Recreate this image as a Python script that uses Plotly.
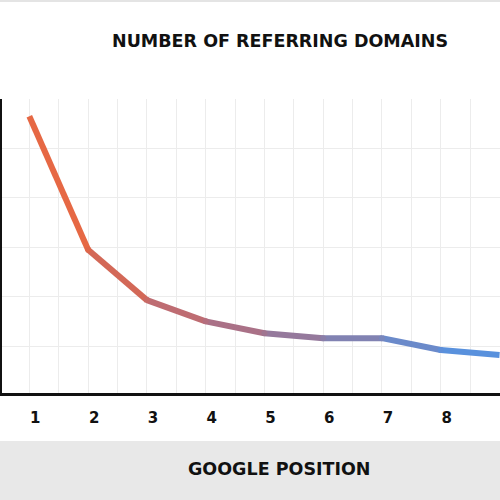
import plotly.graph_objects as go

positions = [1, 2, 3, 4, 5, 6, 7, 8, 9]
domains = [5.65, 2.95, 1.93, 1.50, 1.26, 1.16, 1.16, 0.92, 0.82]
tick_labels = ["1", "2", "3", "4", "5", "6", "7", "8", "9"]
point_colors = ["#EE6A40", "#DE6649", "#C86A66", "#B46E7E", "#A07590",
                "#8A7EA8", "#7886BC", "#5E8ED8", "#5595E2"]

title_text = "NUMBER OF REFERRING DOMAINS"
xaxis_text = "GOOGLE POSITION"


def mix(c1, c2):
    a = [int(c1[i:i + 2], 16) for i in (1, 3, 5)]
    b = [int(c2[i:i + 2], 16) for i in (1, 3, 5)]
    return "#%02X%02X%02X" % tuple((x + y) // 2 for x, y in zip(a, b))


fig = go.Figure()
for i in range(len(positions) - 1):
    fig.add_trace(go.Scatter(
        x=positions[i:i + 2], y=domains[i:i + 2], mode="lines",
        line=dict(color=mix(point_colors[i], point_colors[i + 1]), width=6),
        hoverinfo="skip", showlegend=False))
fig.add_trace(go.Scatter(
    x=positions[1:-1], y=domains[1:-1], mode="markers",
    marker=dict(color=point_colors[1:-1], size=6, line=dict(width=0)),
    showlegend=False, cliponaxis=True, hoverinfo="skip"))

FONT = "DejaVu Sans"
fig.update_layout(
    width=500, height=500,
    margin=dict(l=2, r=0, t=99, b=107),
    paper_bgcolor="white", plot_bgcolor="white",
    showlegend=False,
    xaxis=dict(
        range=[0.535, 9.008], tickmode="array", tickvals=positions, ticktext=tick_labels,
        showgrid=True, gridcolor="#ECECEC", gridwidth=1,
        minor=dict(dtick=0.5, tick0=0.5, showgrid=True, gridcolor="#ECECEC", gridwidth=1),
        showline=True, linecolor="#111111", linewidth=3,
        zeroline=False, ticks="", ticklabelstandoff=9, ticklabelshift=6,
        tickfont=dict(family=FONT, size=15, color="#111111", weight="bold"),
        fixedrange=True),
    yaxis=dict(
        range=[0.05, 6.0], dtick=1, tick0=0,
        showgrid=True, gridcolor="#ECECEC", gridwidth=1,
        showline=True, linecolor="#111111", linewidth=3,
        zeroline=False, showticklabels=False, ticks="", fixedrange=True),
    shapes=[
        dict(type="rect", xref="paper", yref="paper", x0=-0.1, x1=1.1,
             y0=-(441 - 393) / 294, y1=-0.5, fillcolor="#E8E8E8",
             line=dict(width=0), layer="below"),
        dict(type="rect", xref="paper", yref="paper", x0=-0.1, x1=1.1,
             y0=(393 - 0) / 294, y1=(393 - 2) / 294,
             fillcolor="#E4E4E4", line=dict(width=0), layer="below"),
    ],
    annotations=[
        dict(text=title_text, xref="paper", yref="paper",
             x=(280 - 2) / 498, y=(393 - 41) / 294, xanchor="center", yanchor="middle",
             showarrow=False, font=dict(family=FONT, size=17.5, color="#111111", weight="bold")),
        dict(text=xaxis_text, xref="paper", yref="paper",
             x=(279 - 2) / 498, y=-(469 - 393) / 294, xanchor="center", yanchor="middle",
             showarrow=False, font=dict(family=FONT, size=17.5, color="#111111", weight="bold")),
    ],
)

fig.write_html("out.html", config={"displayModeBar": False},
               post_script="document.body.style.margin='0';")
